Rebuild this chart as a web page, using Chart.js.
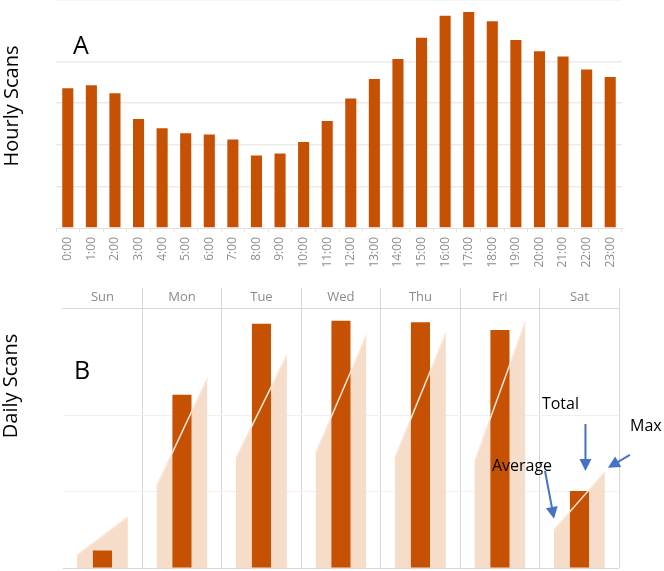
<!DOCTYPE html>
<html>
<head>
<meta charset="utf-8">
<script src="https://cdn.jsdelivr.net/npm/chart.js@4"></script>
<style>
  body { margin: 0; background: #fff; }
  .panel { position: absolute; left: 0; }
  #panelA { top: 0; }
  #panelB { top: 285px; }
</style>
</head>
<body>
<div class="panel" id="panelA"><canvas id="hourlyChart" width="664" height="285"></canvas></div>
<div class="panel" id="panelB"><canvas id="dailyChart" width="664" height="286"></canvas></div>
<script>
// panel A
const hours = ["0:00", "1:00", "2:00", "3:00", "4:00", "5:00", "6:00", "7:00",
    "8:00", "9:00", "10:00", "11:00", "12:00", "13:00", "14:00", "15:00",
    "16:00", "17:00", "18:00", "19:00", "20:00", "21:00", "22:00", "23:00"];
const hourlyScans = [3360, 3430, 3240, 2620, 2400, 2280, 2250, 2130, 1740, 1790, 2070, 2570,
    3110, 3580, 4060, 4570, 5100, 5190, 4970, 4520, 4250, 4120, 3810, 3630];

// panel B
const days = ["Sun", "Mon", "Tue", "Wed", "Thu", "Fri", "Sat"];
const dailyTotal = [230, 2270, 3200, 3240, 3220, 3120, 1010];
const dailyAverage = [170, 1070, 1440, 1500, 1450, 1390, 500];
const dailyMax = [670, 2490, 2790, 3050, 3080, 3230, 1260];

const FONT = "'Open Sans', sans-serif";
const BAR = "#c65102";
const AREA = "#f6ddca";
const EDGE = "#fbe8da";
const ARROW = "#4472c4";
const AREA_HALF = 0.32; // half width of the shaded area, in days

// y titles, panel letters and arrows
const panelText = {
    id: "panelText",
    afterDraw(chart, args, opts) {
        const ctx = chart.ctx;
        ctx.save();
        ctx.fillStyle = "#000";
        ctx.textAlign = "center";
        ctx.textBaseline = "middle";

        ctx.font = "20px " + FONT;
        ctx.save();
        ctx.translate(opts.titleX, opts.titleY);
        ctx.rotate(-Math.PI / 2);
        ctx.fillText(opts.title, 0, 0);
        ctx.restore();

        ctx.font = "25px " + FONT;
        ctx.fillText(opts.letter, opts.letterX, opts.letterY);

        if (opts.arrows) {
            const xs = chart.scales.x, ys = chart.scales.y;
            const i = days.length - 1;
            const notes = [
                { text: "Total", px: xs.getPixelForValue(i), py: ys.getPixelForValue(dailyTotal[i]),
                  tip: [6, -20], tail: [0, -47], label: [-25, -67] },
                { text: "Max", px: xs.getPixelForValue(i + AREA_HALF), py: ys.getPixelForValue(dailyMax[i]),
                  tip: [3, -4], tail: [22, -13], label: [38, -41] },
                { text: "Average", px: xs.getPixelForValue(i - AREA_HALF), py: ys.getPixelForValue(dailyAverage[i]),
                  tip: [0, -11], tail: [-9, -48], label: [-32, -52] },
            ];
            notes.forEach((n) => {
                const tx = n.px + n.tip[0], ty = n.py + n.tip[1];
                const sx = tx + n.tail[0], sy = ty + n.tail[1];
                const ang = Math.atan2(ty - sy, tx - sx);
                const head = 12;
                ctx.strokeStyle = ARROW;
                ctx.fillStyle = ARROW;
                ctx.lineWidth = 2;
                ctx.beginPath();
                ctx.moveTo(sx, sy);
                ctx.lineTo(tx - Math.cos(ang) * head * 0.8, ty - Math.sin(ang) * head * 0.8);
                ctx.stroke();
                ctx.beginPath();
                ctx.moveTo(tx, ty);
                ctx.lineTo(tx - Math.cos(ang) * head + Math.sin(ang) * 6, ty - Math.sin(ang) * head - Math.cos(ang) * 6);
                ctx.lineTo(tx - Math.cos(ang) * head - Math.sin(ang) * 6, ty - Math.sin(ang) * head + Math.cos(ang) * 6);
                ctx.closePath();
                ctx.fill();
                ctx.fillStyle = "#000";
                ctx.font = "16px " + FONT;
                ctx.fillText(n.text, tx + n.label[0], ty + n.label[1]);
            });
        }
        ctx.restore();
    },
};

new Chart(document.getElementById("hourlyChart"), {
    type: "bar",
    data: {
        labels: hours,
        datasets: [{
            data: hourlyScans,
            backgroundColor: BAR,
            barPercentage: 0.47,
            categoryPercentage: 1,
        }],
    },
    options: {
        responsive: false,
        animation: false,
        layout: { padding: { left: 56, right: 42, top: 0, bottom: 0 } },
        scales: {
            x: {
                afterFit: (axis) => { axis.height = 57; },
                grid: { drawOnChartArea: false, tickLength: 4, color: "#e4e4e4", offset: true },
                border: { color: "#e0e0e0" },
                ticks: {
                    autoSkip: false, minRotation: 90, maxRotation: 90, padding: 5,
                    color: "#8c8c8c", font: { family: FONT, size: 12 },
                },
            },
            y: {
                bounds: "data",
                afterDataLimits: (s) => { s.min = 0; s.max = 5480; },
                ticks: { display: false, stepSize: 1000 },
                grid: {
                    drawTicks: false,
                    lineWidth: 1.5,
                    color: (c) => (c.tick && c.tick.value === 0 ? "transparent" : "#ebebeb"),
                },
                border: { display: false },
            },
        },
        plugins: {
            legend: { display: false },
            tooltip: { enabled: false },
            panelText: { title: "Hourly Scans", titleX: 12, titleY: 106, letter: "A", letterX: 81, letterY: 47 },
        },
    },
    plugins: [panelText],
});

const areaSets = days.map((d, i) => ({
    type: "line",
    xAxisID: "x",
    yAxisID: "y",
    order: 3,
    data: [{ x: i - AREA_HALF, y: dailyAverage[i] }, { x: i + AREA_HALF, y: dailyMax[i] }],
    borderColor: "transparent",
    borderWidth: 0,
    pointRadius: 0,
    fill: "origin",
    backgroundColor: AREA,
}));
const edgeSets = days.map((d, i) => ({
    type: "line",
    xAxisID: "x",
    yAxisID: "y",
    order: 1,
    data: [{ x: i - AREA_HALF, y: dailyAverage[i] }, { x: i + AREA_HALF, y: dailyMax[i] }],
    borderColor: EDGE,
    borderWidth: 1.5,
    pointRadius: 0,
    fill: false,
}));

new Chart(document.getElementById("dailyChart"), {
    type: "bar",
    data: {
        labels: days,
        datasets: [
            ...areaSets,
            {
                type: "bar",
                xAxisID: "x",
                yAxisID: "y",
                order: 2,
                data: days.map((d, i) => ({ x: i, y: dailyTotal[i] })),
                backgroundColor: BAR,
                barPercentage: 0.24,
                categoryPercentage: 1,
            },
            ...edgeSets,
        ],
    },
    options: {
        responsive: false,
        animation: false,
        layout: { padding: { left: 62.7, right: 44.8, top: 0, bottom: 3 } },
        scales: {
            x: { type: "linear", min: -0.5, max: 6.5, offset: false, display: false, ticks: { stepSize: 1 } },
            xTop: {
                type: "category",
                axis: "x",
                position: "top",
                offset: true,
                afterFit: (axis) => { axis.height = 23; },
                grid: {
                    offset: true,
                    tickLength: 20,
                    color: (c) => (c.index === 0 ? "transparent" : "#d6d6d6"),
                },
                border: { color: "#d9d9d9" },
                ticks: { padding: -17, color: "#8a8a8a", font: { family: FONT, size: 13 } },
            },
            y: {
                bounds: "data",
                afterDataLimits: (s) => { s.min = 0; s.max = 3408; },
                ticks: { display: false, stepSize: 1000 },
                grid: {
                    drawTicks: false,
                    color: (c) => (c.tick && c.tick.value === 0 ? "#d6d6d6" : "#f0f0f0"),
                },
                border: { display: false },
            },
        },
        plugins: {
            legend: { display: false },
            tooltip: { enabled: false },
            panelText: { title: "Daily Scans", titleX: 11, titleY: 101, letter: "B", letterX: 82, letterY: 87, arrows: true },
        },
    },
    plugins: [panelText],
});
</script>
</body>
</html>
